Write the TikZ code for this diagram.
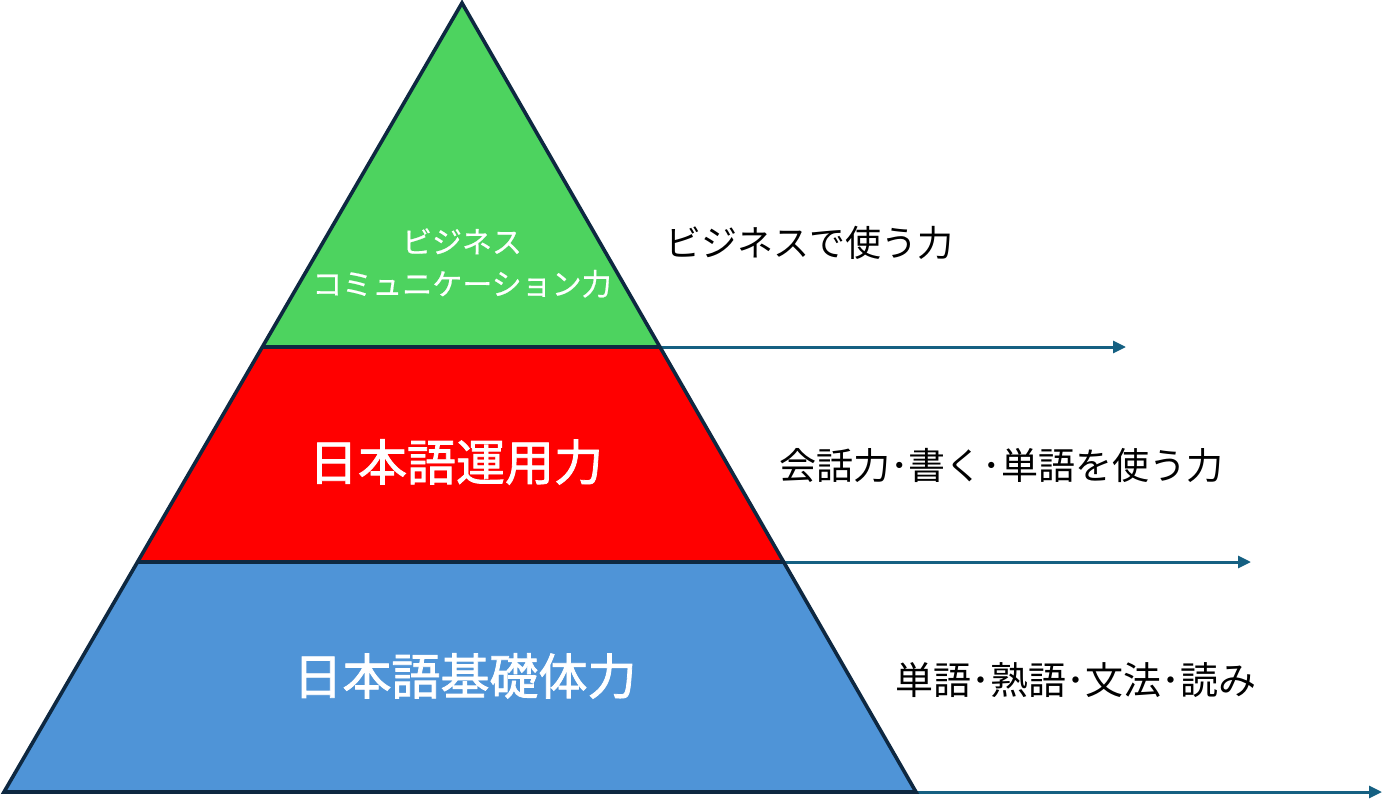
\documentclass[tikz,border=0pt]{standalone}
\usepackage{fontspec}
\setmainfont{Noto Sans CJK JP}
\newfontfamily\heavyjp[FakeBold=1.6]{Noto Sans CJK JP}
\newfontfamily\midjp[FakeBold=0.6]{Noto Sans CJK JP}
\usetikzlibrary{arrows.meta}
\definecolor{tgreen}{HTML}{4DD35F}
\definecolor{tred}{HTML}{FF0000}
\definecolor{tblue}{HTML}{4F94D7}
\definecolor{outl}{HTML}{0E2841}
\definecolor{arr}{HTML}{156082}
\tikzset{
  outline/.style={draw=outl,line width=3.6pt,line join=miter},
  sep/.style={draw=outl,line width=3.4pt},
  arrowline/.style={draw=arr,line width=3pt,-{Triangle[length=13pt,width=12pt]}},
  inlabel/.style={text=white,align=center,inner sep=0pt},
  sidelabel/.style={text=black,inner sep=0pt,anchor=west,font=\fontsize{37}{44}\selectfont}
}
\begin{document}
\begin{tikzpicture}[x=1pt,y=-1pt]
\useasboundingbox (0,0) rectangle (1394,806);
\coordinate (A) at (462,3);
\coordinate (L1) at (262,347);
\coordinate (R1) at (660,347);
\coordinate (L2) at (138,562);
\coordinate (R2) at (785,562);
\coordinate (BL) at (4,792);
\coordinate (BR) at (916,792);
\coordinate (E1) at (1126,347);
\coordinate (E2) at (1251,562);
\coordinate (E3) at (1382,792);
\fill[tgreen] (A) -- (R1) -- (L1) -- cycle;
\fill[tred] (L1) -- (R1) -- (R2) -- (L2) -- cycle;
\fill[tblue] (L2) -- (R2) -- (BR) -- (BL) -- cycle;
\draw[arrowline] (R1) -- (E1);
\draw[arrowline] (R2) -- (E2);
\draw[arrowline] (BR) -- (E3);
\draw[sep] (L1) -- (R1);
\draw[sep] (L2) -- (R2);
\draw[outline] (A) -- (BR) -- (BL) -- cycle;
\node[inlabel,font=\midjp\fontsize{30}{42}\selectfont] (g) at (462,263) {ビジネス\\コミュニケーション力};
\node[inlabel,font=\heavyjp\fontsize{49}{56}\selectfont] (r) at (456,462) {日本語運用力};
\node[inlabel,font=\heavyjp\fontsize{49}{56}\selectfont] (b) at (465,676) {日本語基礎体力};
\node[sidelabel,font=\fontsize{36}{44}\selectfont] (t1) at (665,243) {ビジネスで使う力};
\node[sidelabel] (t2) at (779,465) {会話力･書く･単語を使う力};
\node[sidelabel,font=\fontsize{38}{44}\selectfont] (t3) at (895,680) {単語･熟語･文法･読み};
\end{tikzpicture}
\end{document}
